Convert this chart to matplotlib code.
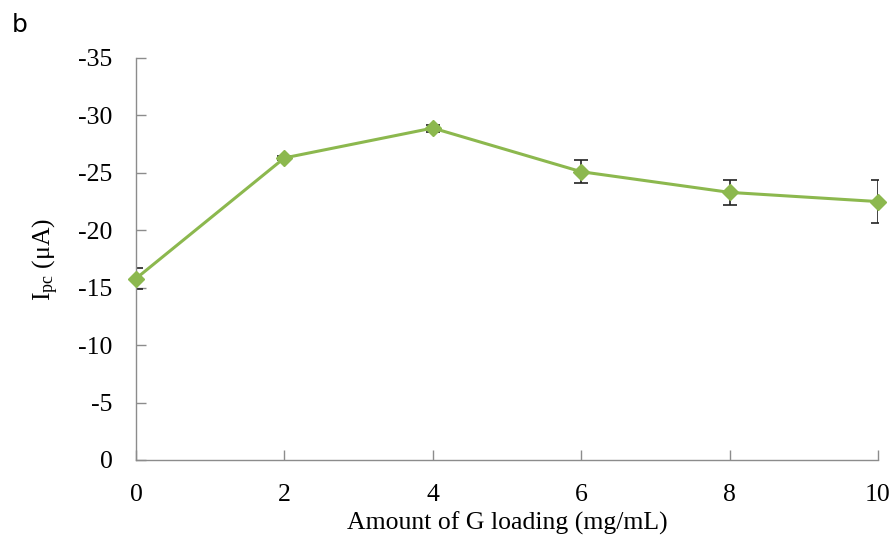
import matplotlib
matplotlib.use("Agg")
import matplotlib.pyplot as plt

x_vals = [0, 2, 4, 6, 8, 10]
ipc = [-15.8, -26.3, -28.9, -25.1, -23.3, -22.5]
err = [0.9, 0.2, 0.3, 1.0, 1.1, 1.9]
x_ticks = [0, 2, 4, 6, 8, 10]
y_ticks = [0, -5, -10, -15, -20, -25, -30, -35]

plt.rcParams['font.family'] = ['Liberation Serif', 'DejaVu Serif']
plt.rcParams['mathtext.fontset'] = 'custom'
plt.rcParams['mathtext.rm'] = 'Liberation Serif'
plt.rcParams['mathtext.it'] = 'Liberation Serif:italic'

fig = plt.figure(figsize=(8.95, 5.45), dpi=100)
ax = fig.add_axes([136/895, 85/545, (878-136)/895, (460-58)/545])

green = '#8CB84E'
eb = ax.errorbar(x_vals, ipc, yerr=err, fmt='none', ecolor='#222222', elinewidth=1.2,
                 capsize=5, capthick=1.2, zorder=2)
for art in eb.get_children():
    art.set_clip_on(True)
ax.plot(x_vals, ipc, color=green, lw=2.2, marker='D', markersize=8.5,
        markerfacecolor=green, markeredgecolor=green, zorder=3, clip_on=False)

ax.set_xlim(0, 10)
ax.set_ylim(0, -35)
ax.set_xticks(x_ticks)
ax.set_yticks(y_ticks)
ax.set_yticklabels([str(v) for v in y_ticks])

for s in ['top', 'right']:
    ax.spines[s].set_visible(False)
for s in ['left', 'bottom']:
    ax.spines[s].set_color('#8C8C8C')
    ax.spines[s].set_linewidth(1.0)

ax.tick_params(axis='both', direction='in', length=7, color='#8C8C8C',
               labelsize=18.5, width=1.0)
ax.tick_params(axis='x', pad=17)
ax.tick_params(axis='y', pad=17)

ax.set_xlabel('Amount of G loading (mg/mL)', fontsize=18.5, labelpad=4)
ax.set_ylabel(r'I$_{\mathrm{pc}}$ (μA)', fontsize=18.5, labelpad=12)

fig.text(12/895, 1 - 25/545, 'b', fontsize=18, family='DejaVu Sans',
         va='center', ha='left')

fig.savefig('out.png', dpi=100)
